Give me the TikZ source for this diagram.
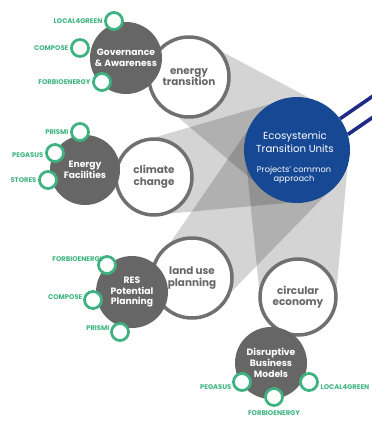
\documentclass[tikz,border=0pt]{standalone}
\usepackage{fontspec}
\setmainfont{Poppins}
\usepackage{xcolor}
\usetikzlibrary{calc,positioning}
\definecolor{etublue}{RGB}{22,72,148}
\definecolor{navy}{RGB}{32,42,135}
\definecolor{darkgrey}{RGB}{102,102,102}
\definecolor{ringgrey}{RGB}{112,112,112}
\definecolor{projgreen}{RGB}{62,178,128}
\tikzset{%
    theme/.style={circle,draw=ringgrey,line width=3.5pt,fill=white,minimum size=76pt,
        text=darkgrey,align=center,font=\fontsize{10.4}{11.5}\selectfont\bfseries},
    pillar/.style={circle,fill=darkgrey,minimum size=72pt,inner sep=0pt,
        text=white,align=center,font=\fontsize{9.2}{10.8}\selectfont\bfseries},
    ring/.style={circle,draw=projgreen,line width=2.8pt,fill=white,minimum size=17pt,inner sep=0pt},
    proj/.style={text=projgreen,inner sep=0.5pt,font=\fontsize{6.8}{7}\selectfont\bfseries},
    beam/.style={fill=black,opacity=0.17},
    link/.style={draw=navy,line width=3.6pt}
}

\begin{document}
\begin{tikzpicture}[x=1pt,y=-1pt]
	\useasboundingbox (0,0) rectangle (372,421);
	\clip (0,0) rectangle (372,421);

	% centres of the themes
	\coordinate (etu) at (297,150);
	\coordinate (ener) at (189,77);
	\coordinate (clim) at (154,177);
	\coordinate (land) at (192,278);
	\coordinate (circ) at (298,297);

	% shadow beams
	\fill[beam] ($(ener)!38pt!90:(etu)$) -- ($(etu)!52pt!-90:(ener)$) -- ($(etu)!52pt!90:(ener)$) -- ($(ener)!38pt!-90:(etu)$) -- cycle;
	\fill[beam] ($(clim)!38pt!90:(etu)$) -- ($(etu)!52pt!-90:(clim)$) -- ($(etu)!52pt!90:(clim)$) -- ($(clim)!38pt!-90:(etu)$) -- cycle;
	\fill[beam] ($(land)!38pt!90:(etu)$) -- ($(etu)!52pt!-90:(land)$) -- ($(etu)!52pt!90:(land)$) -- ($(land)!38pt!-90:(etu)$) -- cycle;
	\fill[beam] ($(circ)!38pt!90:(etu)$) -- ($(etu)!52pt!-90:(circ)$) -- ($(etu)!52pt!90:(circ)$) -- ($(circ)!38pt!-90:(etu)$) -- cycle;

	% ecosystemic transition units
	\node[circle,minimum size=106pt,inner sep=0pt] (hub) at (etu) {};
	\coordinate (out1) at ($(hub.36)+(34.6:90pt)$);
	\coordinate (out2) at ($(hub.17)+(34.6:90pt)$);
	\draw[link] (hub.36) -- (out1);
	\draw[link] (hub.17) -- (out2);
	\node[circle,fill=etublue,minimum size=106pt,inner sep=0pt] (ETU) at (etu) {};
	\node[text=white,align=center,font=\fontsize{10.2}{13}\selectfont] at (295,142) {Ecosystemic\\Transition Units};
	\node[text=white,align=center,font=\fontsize{8.2}{9.5}\selectfont] at (294,175) {Projects' common\\approach};

	% themes
	\node[theme,minimum size=80pt] (ET) at (ener) {energy\\transition};
	\node[theme] (CC) at (clim) {climate\\change};
	\node[theme,minimum size=80pt] (LU) at (land) {land use\\planning};
	\node[theme] (CE) at (circ) {circular\\economy};

	% pillars
	\node[pillar] (GA) at (126,58) {Governance\\\& Awareness};
	\node[pillar,minimum size=70pt] (EF) at (85,170) {Energy\\Facilities};
	\node[pillar] (RP) at (132,292) {RES\\Potential\\Planning};
	\node[pillar] (DB) at (271,363) {Disruptive\\Business\\Models};

	% projects
	\node[ring] (ga1) at (114,21) {};
	\node[ring] (ga2) at (80,48) {};
	\node[ring] (ga3) at (102,82) {};
	\node[proj,left=1pt of ga1] {LOCAL4GREEN};
	\node[proj,left=1pt of ga2] {COMPOSE};
	\node[proj,left=1pt of ga3] {FORBIOENERGY};

	\node[ring] (ef1) at (80,132) {};
	\node[ring] (ef2) at (55,153) {};
	\node[ring] (ef3) at (48,180) {};
	\node[proj,left=1pt of ef1] {PRISMI};
	\node[proj,left=1pt of ef2,yshift=-2pt] {PEGASUS};
	\node[proj,left=1pt of ef3] {STORES};

	\node[ring] (rp1) at (107,265) {};
	\node[ring] (rp2) at (93,300) {};
	\node[ring] (rp3) at (120,332) {};
	\node[proj,above left=-4pt and -5pt of rp1] {FORBIOENERGY};
	\node[proj,left=0pt of rp2,yshift=3pt] {COMPOSE};
	\node[proj,left=0pt of rp3,yshift=4pt] {PRISMI};

	\node[ring] (db1) at (242,382) {};
	\node[ring] (db2) at (274,397) {};
	\node[ring] (db3) at (309,382) {};
	\node[proj,left=0pt of db1,yshift=-5pt] {PEGASUS};
	\node[proj,below=3pt of db2] {FORBIOENERGY};
	\node[proj,right=1pt of db3,yshift=-5pt] {LOCAL4GREEN};
\end{tikzpicture}
\end{document}
